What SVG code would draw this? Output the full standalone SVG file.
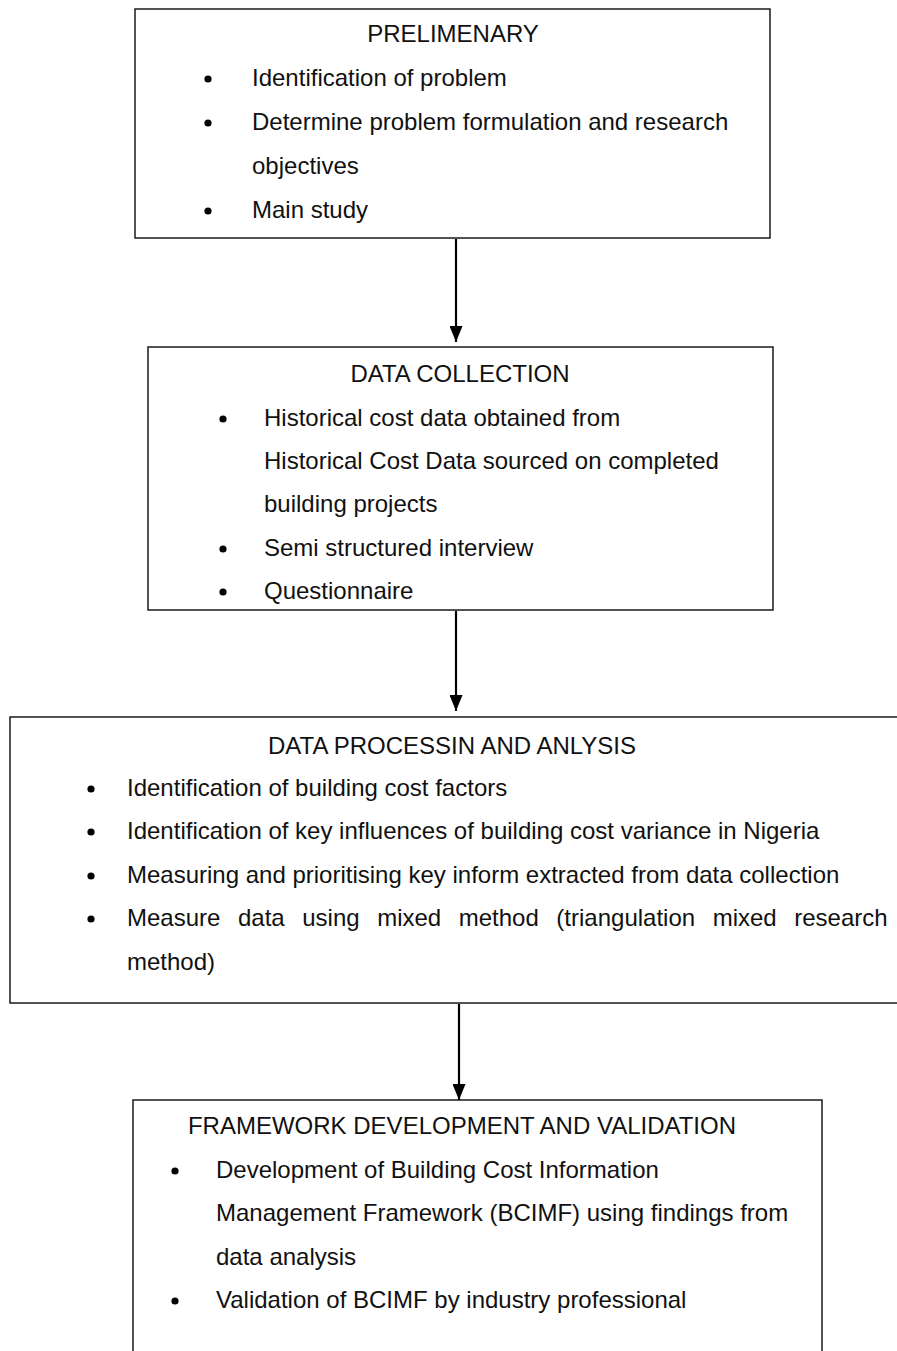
<svg xmlns="http://www.w3.org/2000/svg" width="897" height="1351" viewBox="0 0 897 1351">
  <style>
    .box { fill: #ffffff; stroke: #1a1a1a; stroke-width: 1.5; }
    .t { font-family: "Liberation Sans", Arial, sans-serif; font-size: 24px; fill: #111111; }
    .c { text-anchor: middle; }
    .dot { fill: #000000; }
    .link { stroke: #000000; stroke-width: 2.2; fill: none; marker-end: url(#arrow); }
  </style>
  <defs>
    <marker id="arrow" markerWidth="16" markerHeight="13" refX="16" refY="6.5" orient="auto" markerUnits="userSpaceOnUse" viewBox="0 0 16 13">
      <path d="M0,0 L16,6.5 L0,13 Z" fill="#000000"/>
    </marker>
  </defs>
  <rect width="897" height="1351" fill="#ffffff"/>

  <!-- stage 1 -->
  <g id="preliminary">
    <rect class="box" x="135" y="9" width="635" height="229"/>
    <text class="t c" x="453" y="42">PRELIMENARY</text>
    <circle class="dot" cx="208" cy="79" r="3.6"/>
    <text class="t" x="252" y="86">Identification of problem</text>
    <circle class="dot" cx="208" cy="123" r="3.6"/>
    <text class="t" x="252" y="130">Determine problem formulation and research</text>
    <text class="t" x="252" y="174">objectives</text>
    <circle class="dot" cx="208" cy="211" r="3.6"/>
    <text class="t" x="252" y="218">Main study</text>
  </g>

  <!-- stage 2 -->
  <g id="data-collection">
    <rect class="box" x="148" y="347" width="625" height="263"/>
    <text class="t c" x="460" y="382">DATA COLLECTION</text>
    <circle class="dot" cx="223" cy="419" r="3.6"/>
    <text class="t" x="264" y="426">Historical cost data obtained from</text>
    <text class="t" x="264" y="469">Historical Cost Data sourced on completed</text>
    <text class="t" x="264" y="512">building projects</text>
    <circle class="dot" cx="223" cy="549" r="3.6"/>
    <text class="t" x="264" y="556">Semi structured interview</text>
    <circle class="dot" cx="223" cy="592" r="3.6"/>
    <text class="t" x="264" y="599">Questionnaire</text>
  </g>

  <!-- stage 3 -->
  <g id="data-processing">
    <rect class="box" x="10" y="717" width="900" height="286"/>
    <text class="t c" x="452" y="754">DATA PROCESSIN AND ANLYSIS</text>
    <circle class="dot" cx="91" cy="789" r="3.6"/>
    <text class="t" x="127" y="796">Identification of building cost factors</text>
    <circle class="dot" cx="91" cy="832" r="3.6"/>
    <text class="t" x="127" y="839">Identification of key influences of building cost variance in Nigeria</text>
    <circle class="dot" cx="91" cy="876" r="3.6"/>
    <text class="t" x="127" y="883">Measuring and prioritising key inform extracted from data collection</text>
    <circle class="dot" cx="91" cy="919" r="3.6"/>
    <text class="t" x="127" y="926" word-spacing="10.9">Measure data using mixed method (triangulation mixed research</text>
    <text class="t" x="127" y="970">method)</text>
  </g>

  <!-- stage 4 -->
  <g id="framework">
    <rect class="box" x="133" y="1100" width="689" height="270"/>
    <text class="t c" x="462" y="1134">FRAMEWORK DEVELOPMENT AND VALIDATION</text>
    <circle class="dot" cx="175" cy="1171" r="3.6"/>
    <text class="t" x="216" y="1178">Development of Building Cost Information</text>
    <text class="t" x="216" y="1221">Management Framework (BCIMF) using findings from</text>
    <text class="t" x="216" y="1265">data analysis</text>
    <circle class="dot" cx="175" cy="1301" r="3.6"/>
    <text class="t" x="216" y="1308">Validation of BCIMF by industry professional</text>
  </g>

  <!-- flow arrows -->
  <g id="connectors">
    <line class="link" x1="456" y1="239" x2="456" y2="342"/>
    <line class="link" x1="456" y1="611" x2="456" y2="711"/>
    <line class="link" x1="459" y1="1004" x2="459" y2="1100"/>
  </g>
</svg>
